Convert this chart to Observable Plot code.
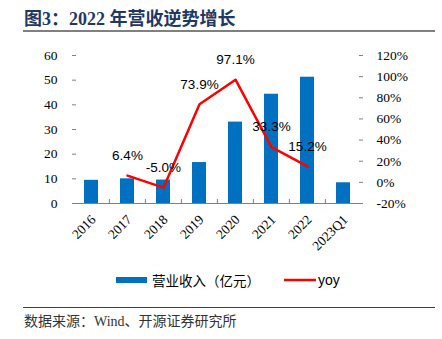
<!DOCTYPE html>
<html><head><meta charset="utf-8">
<script src="https://cdn.jsdelivr.net/npm/d3@7"></script>
<script src="https://cdn.jsdelivr.net/npm/@observablehq/plot@0.6"></script>
<style>
body{margin:0;background:#fff;}
#wrap{position:relative;width:442px;height:339px;overflow:hidden;background:#fff;}
#deco{position:absolute;left:0;top:0;}
#p1,#p2{position:absolute;left:0;top:40px;}
</style></head><body>
<div id="wrap">
<svg id="deco" width="442" height="339">
  <text x="24" y="25" font-family="'Liberation Serif','Noto Sans CJK SC',serif" font-weight="bold" font-size="18" fill="#1F3864">图3：2022 年营收逆势增长</text>
  <line x1="23" x2="435" y1="31" y2="31" stroke="#808080" stroke-width="2"/>
  <rect x="116" y="277" width="31" height="6" fill="#0070C0"/>
  <text x="152" y="286" font-family="'Noto Sans CJK SC',sans-serif" font-size="13.5" fill="#000">营业收入（亿元）</text>
  <line x1="284" x2="316" y1="280" y2="280" stroke="#FF0000" stroke-width="2.5"/>
  <text x="318" y="285" font-family="'Liberation Sans',Arial,sans-serif" font-size="14" fill="#000">yoy</text>
  <line x1="23" x2="435" y1="307.5" y2="307.5" stroke="#404040" stroke-width="1.2"/>
  <text x="24" y="326" font-family="'Liberation Serif','Noto Sans CJK SC',serif" font-size="14" fill="#333">数据来源：Wind、开源证券研究所</text>
</svg>
<div id="p1"></div><div id="p2"></div>
</div>
<script>
const categories = ["2016","2017","2018","2019","2020","2021","2022","2023Q1"];
const revenue = [9.4, 10.0, 9.5, 16.6, 33.0, 44.3, 51.2, 8.4];
const yoyYears = ["2017","2018","2019","2020","2021","2022"];
const yoy = [6.4, -5.0, 73.9, 97.1, 33.3, 15.2];
const leftTicks = [0,10,20,30,40,50,60];
const rightTicks = [-20,0,20,40,60,80,100,120];

const revData = categories.map((c,i)=>({c, v: revenue[i]}));
const yoyData = yoyYears.map((c,i)=>({c, v: yoy[i]}));

const W=442, H=215, mL=72, mR=80, mT=15, mB=52;
const step = (W-mL-mR)/categories.length;
const serif = "'Liberation Serif','Times New Roman',serif";
const common = {width:W, height:H, marginLeft:mL, marginRight:mR, marginTop:mT, marginBottom:mB,
  style:{fontFamily:serif, fontSize:"13.5px", color:"#000", background:"transparent", overflow:"visible"}};
const xOpts = {domain: categories, paddingInner: 0.6, paddingOuter: 0.3};

const p1 = Plot.plot({...common,
  x: xOpts, y: {domain:[0,60]},
  marks: [
    Plot.barY(revData, {x:"c", y:"v", fill:"#0070C0"}),
    Plot.ruleY([0], {stroke:"#808080"}),
    Plot.axisY({ticks:leftTicks, tickSize:-4, tickPadding:19, stroke:"#808080", label:null, line:true}),
    Plot.axisX({tickSize:0, tickRotate:-45, tickPadding:14, dx:2, label:null}),
    Plot.axisX({ticks:categories.slice(1), tickSize:-4, dx:-step/2, tickFormat:()=>"", stroke:"#808080", label:null})
  ]});
document.getElementById("p1").append(p1);

const p2 = Plot.plot({...common,
  x: {...xOpts, axis:null}, y: {domain:[-20,120]},
  marks: [
    Plot.line(yoyData, {x:"c", y:"v", stroke:"#FF0000", strokeWidth:2.5}),
    Plot.text(yoyData, {x:"c", y:"v", text:d=>d.v.toFixed(1)+"%", dy:-20, fontFamily:"'Liberation Sans',Arial,sans-serif", fontSize:13.5, fill:"#000"}),
    Plot.axisY({anchor:"right", ticks:rightTicks, tickSize:-4, tickPadding:18, tickFormat:d=>d+"%", stroke:"#808080", label:null, line:true})
  ]});
document.getElementById("p2").append(p2);
</script>
</body></html>
